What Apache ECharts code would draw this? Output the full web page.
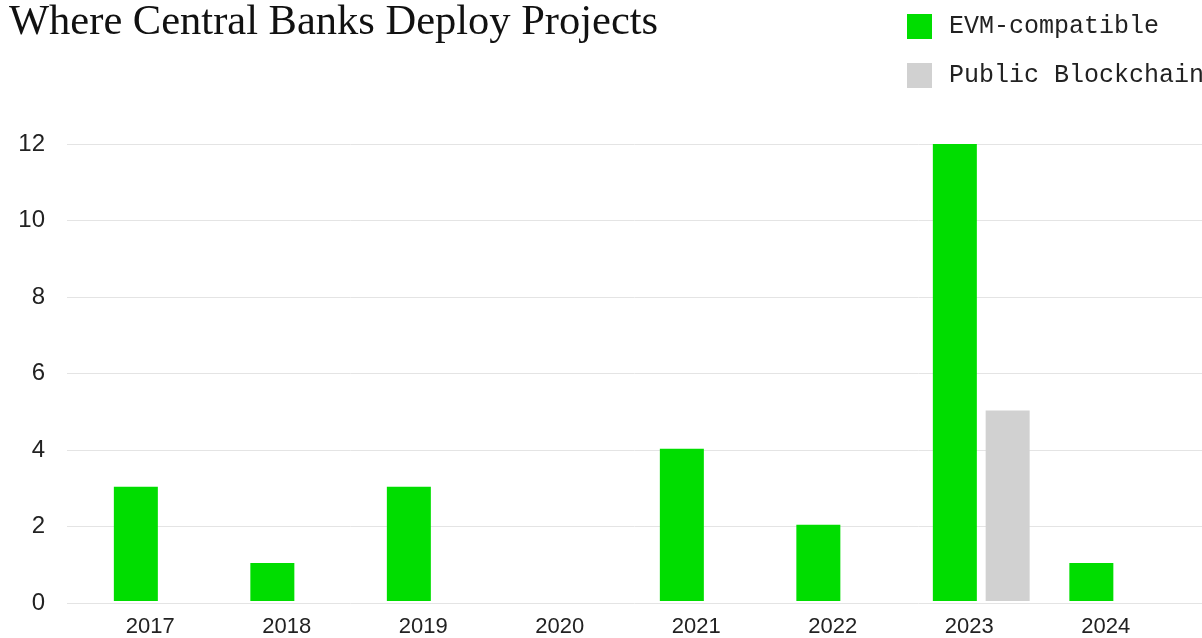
<!DOCTYPE html>
<html>
<head>
<meta charset="utf-8">
<script src="https://cdn.jsdelivr.net/npm/echarts@6/dist/echarts.min.js"></script>
<style>html,body{margin:0;padding:0;background:#fff;}#chart{width:1202px;height:638px;}</style>
</head>
<body>
<div id="chart"></div>
<script>
const years = ['2017', '2018', '2019', '2020', '2021', '2022', '2023', '2024'];
const evmCompatible = [3, 1, 3, 0, 4, 2, 12, 1];
const publicBlockchain = [0, 0, 0, 0, 0, 0, 5, 0];
const yTicks = { min: 0, max: 12, interval: 2 };

const chart = echarts.init(document.getElementById('chart'));
chart.setOption({
  backgroundColor: '#ffffff',
  animation: false,
  title: {
    text: 'Where Central Banks Deploy Projects',
    left: 4,
    top: -4,
    textStyle: { fontFamily: 'Liberation Serif', fontSize: 42.5, fontWeight: 'normal', color: '#111' }
  },
  legend: {
    orient: 'vertical',
    left: 902,
    top: 9,
    itemWidth: 25,
    itemHeight: 25,
    itemGap: 24,
    icon: 'rect',
    textStyle: { fontFamily: 'Liberation Mono', fontSize: 25, color: '#222', padding: [0, 0, 0, 12] },
    data: ['EVM-compatible', 'Public Blockchain']
  },
  grid: [
    { left: 94, right: 16, top: 144, bottom: 35 },
    { left: 67, right: 0, top: 144, bottom: 35 }
  ],
  xAxis: [
    {
      type: 'category', gridIndex: 0, data: years,
      axisLine: { show: false }, axisTick: { show: false },
      axisLabel: { fontFamily: 'Liberation Sans', fontSize: 22, color: '#222', margin: 15, padding: [0, 24, 0, 0] }
    },
    { type: 'category', gridIndex: 1, data: years, show: false }
  ],
  yAxis: [
    { type: 'value', gridIndex: 0, min: yTicks.min, max: yTicks.max, interval: yTicks.interval, show: false, splitLine: { show: false } },
    {
      type: 'value', gridIndex: 1, min: yTicks.min, max: yTicks.max, interval: yTicks.interval,
      axisLine: { show: false }, axisTick: { show: false },
      splitLine: { lineStyle: { color: '#e4e4e4', width: 1 } },
      axisLabel: { fontFamily: 'Liberation Sans', fontSize: 24, color: '#222', margin: 22 }
    }
  ],
  series: [
    {
      name: 'EVM-compatible', type: 'bar', xAxisIndex: 0, yAxisIndex: 0,
      data: evmCompatible, barWidth: 44, barGap: '20%',
      itemStyle: { color: '#00dd00' }
    },
    {
      name: 'Public Blockchain', type: 'bar', xAxisIndex: 0, yAxisIndex: 0,
      data: publicBlockchain, barWidth: 44, barGap: '20%',
      itemStyle: { color: '#d1d1d1' }
    }
  ]
});
</script>
</body>
</html>
